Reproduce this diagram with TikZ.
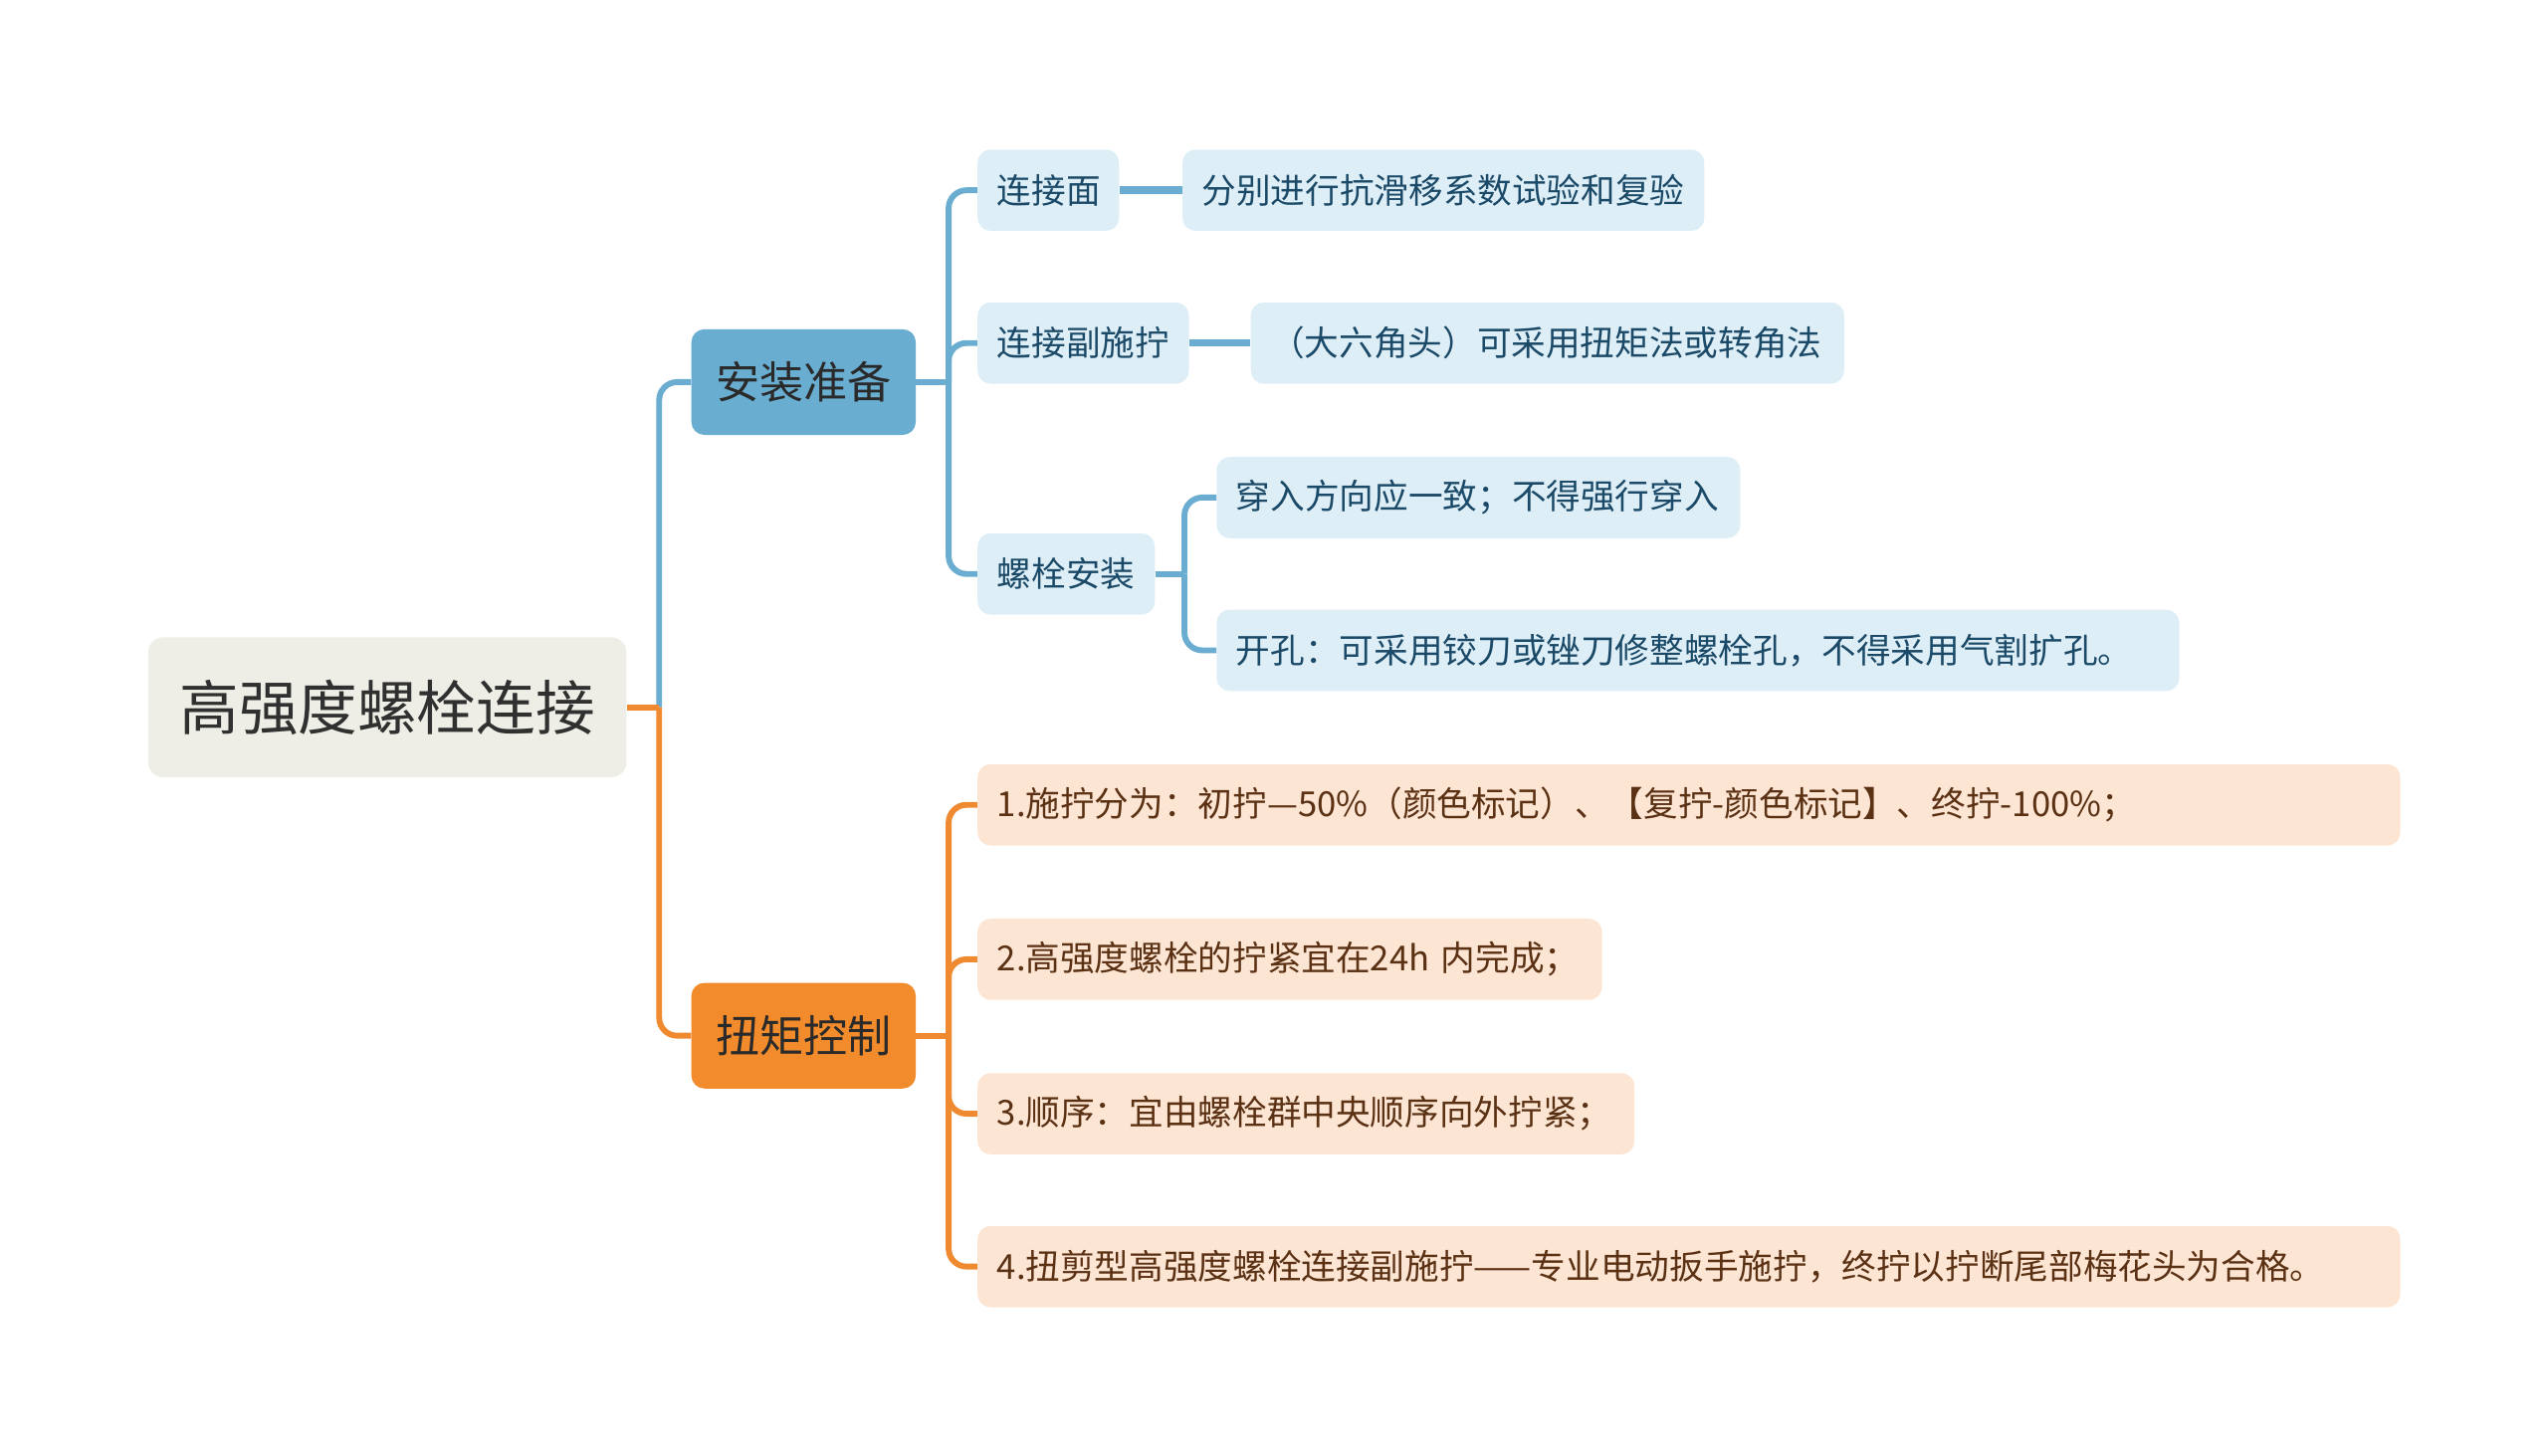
\documentclass[tikz,border=0pt]{standalone}
\usepackage{fontspec}
\newfontfamily\cjk{Noto Sans CJK SC}
\definecolor{rootfill}{HTML}{EEEEE6}
\definecolor{roottext}{HTML}{303030}
\definecolor{bluemain}{HTML}{69ADD1}
\definecolor{bluelight}{HTML}{DEEEF7}
\definecolor{bluetext}{HTML}{1B4A68}
\definecolor{blueline}{HTML}{6AADD0}
\definecolor{orangemain}{HTML}{F28B2C}
\definecolor{peach}{HTML}{FDE5D4}
\definecolor{browntext}{HTML}{5B3114}
\definecolor{orangeline}{HTML}{EF8A31}
\definecolor{maintext}{HTML}{2A2A2A}
\begin{document}
\begin{tikzpicture}[x=1pt,y=-1pt,
  rootbox/.style={draw=none, fill=rootfill, text=roottext, rounded corners=9pt, anchor=west,
    minimum width=294pt, minimum height=86pt, inner sep=0pt, font=\cjk\fontsize{36.5}{40}\selectfont},
  mainbox/.style={draw=none, rounded corners=8pt, anchor=west, text=maintext,
    minimum width=138pt, minimum height=65pt, inner sep=0pt, font=\cjk\fontsize{27}{30}\selectfont},
  leafbox/.style={draw=none, rounded corners=8pt, anchor=west, align=left,
    minimum height=50pt, inner xsep=12pt, inner ysep=0pt, font=\cjk\fontsize{21.2}{24}\selectfont},
  bleaf/.style={leafbox, fill=bluelight, text=bluetext},
  oleaf/.style={leafbox, fill=peach, text=browntext},
  bline/.style={draw=blueline, line width=3.6pt, rounded corners=11pt},
  oline/.style={draw=orangeline, line width=3.6pt, rounded corners=11pt},
  bthick/.style={draw=blueline, line width=4.6pt},
]
\useasboundingbox (0,0) rectangle (1567,895);

% nodes
\node[rootbox] (root) at (91,435) {高强度螺栓连接};
\node[mainbox, fill=bluemain] (azzb) at (425,235) {安装准备};
\node[mainbox, fill=orangemain] (njkz) at (425,637) {扭矩控制};

\node[bleaf, text width=63pt] (ljm) at (601,117) {连接面};
\node[bleaf, text width=297pt] (ljm1) at (727,117) {分别进行抗滑移系数试验和复验};
\node[bleaf, text width=106pt] (ljf) at (601,211) {连接副施拧};
\node[bleaf, text width=341pt] (ljf1) at (769,211) {（大六角头）可采用扭矩法或转角法};
\node[bleaf, text width=85pt] (lsaz) at (601,353) {螺栓安装};
\node[bleaf, text width=298pt] (lsaz1) at (748,306) {穿入方向应一致；不得强行穿入};
\node[bleaf, text width=568pt] (lsaz2) at (748,400) {开孔：可采用铰刀或锉刀修整螺栓孔，不得采用气割扩孔。};

\node[oleaf, text width=851pt] (t1) at (601,495) {1.施拧分为：初拧—50\%（颜色标记）、【复拧-颜色标记】、终拧-100\%；};
\node[oleaf, text width=360pt] (t2) at (601,590) {2.高强度螺栓的拧紧宜在24h 内完成；};
\node[oleaf, text width=380pt] (t3) at (601,685) {3.顺序：宜由螺栓群中央顺序向外拧紧；};
\node[oleaf, text width=851pt] (t4) at (601,779) {4.扭剪型高强度螺栓连接副施拧——专业电动扳手施拧，终拧以拧断尾部梅花头为合格。};

% junction coordinates
\coordinate (j0) at ([xshift=20pt]root.east);
\coordinate (j1) at ([xshift=20pt]azzb.east);
\coordinate (j2) at ([xshift=18pt]lsaz.east);
\coordinate (j3) at ([xshift=20pt]njkz.east);

% connectors
\draw[bline] (j0) |- (azzb.west);
\draw[oline] (j0) |- (njkz.west);
\draw[oline, rounded corners=0pt] (root.east) -- (j0);

\draw[bline, rounded corners=0pt] (azzb.east) -- (j1);
\draw[bline] (j1) |- (ljm.west);
\draw[bline] (j1) |- (ljf.west);
\draw[bline] (j1) |- (lsaz.west);
\draw[bthick] (ljm.east) -- (ljm1.west);
\draw[bthick] (ljf.east) -- (ljf1.west);

\draw[bline, rounded corners=0pt] (lsaz.east) -- (j2);
\draw[bline] (j2) |- (lsaz1.west);
\draw[bline] (j2) |- (lsaz2.west);

\draw[oline, rounded corners=0pt] (njkz.east) -- (j3);
\draw[oline] (j3) |- (t1.west);
\draw[oline] (j3) |- (t2.west);
\draw[oline] (j3) |- (t3.west);
\draw[oline] (j3) |- (t4.west);
\end{tikzpicture}
\end{document}
